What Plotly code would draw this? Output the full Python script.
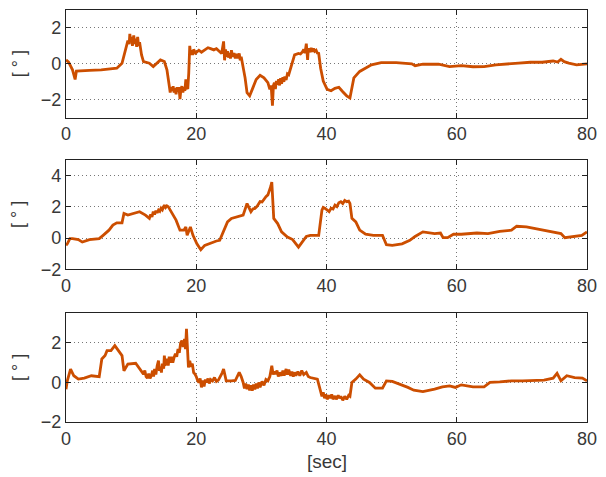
import plotly.graph_objects as go
from plotly.subplots import make_subplots

# ---- data ----
t1 = [0, 0.4, 1.0, 1.4, 1.6, 2.5, 3.6, 5.4, 7.8, 8.6, 9.2, 9.5, 9.7, 9.8, 9.95, 10.1, 10.2, 10.4, 10.55, 10.7,
      10.85, 11.0, 11.15, 11.3, 11.45, 11.6, 11.9, 12.8, 13.4, 13.9, 14.5, 15.1, 15.5, 15.9, 16.0, 16.15,
      16.3, 16.45, 16.6, 16.75, 16.9, 17.05, 17.2, 17.35, 17.5, 17.65, 17.8, 17.95, 18.1, 18.25, 18.4,
      18.55, 18.7, 18.85, 19.0, 19.15, 19.3, 19.45, 19.6, 19.9, 20.4, 20.8, 21.3, 21.8, 22.2, 22.7, 23.1,
      23.5, 23.9, 24.2, 24.35, 24.5, 24.65, 24.8, 24.95, 25.1, 25.25, 25.4, 25.6, 25.8, 26.0, 26.2, 26.4,
      26.6, 26.75, 26.9, 27.05, 27.2, 27.5, 27.8, 28.2, 28.6, 29.2, 29.8, 30.4, 31.0, 31.3, 31.5, 31.7,
      31.85, 32.0, 32.15, 32.3, 32.5, 32.65, 32.8, 32.95, 33.1, 33.3, 33.45, 33.6, 33.8, 34.0, 34.2, 34.8,
      35.1, 35.7, 36.0, 36.3, 36.5, 36.7, 36.9, 37.0, 37.1, 37.2, 37.3, 37.5, 37.65, 37.8, 38.0, 38.2,
      38.4, 38.6, 38.8, 39.1, 39.5, 40.1, 40.7, 41.3, 41.9, 42.5, 43.1, 43.6, 43.9, 44.2, 45.1, 46.0,
      46.9, 48.4, 50.7, 53.1, 53.6, 54.8, 57.2, 58.9, 60.7, 62.5, 64.2, 66.0, 67.8, 69.5, 71.3, 73.1,
      74.8, 75.5, 76.0, 76.5, 77.2, 78.4, 80.0]
y1 = [0.22, 0.1, -0.33, -0.87, -0.4, -0.4, -0.36, -0.33, -0.24, 0.03, 0.85, 1.3, 1.1, 1.67, 1.2, 1.5, 1.0, 1.58, 1.1, 1.4,
      0.95, 1.5, 1.0, 1.2, 0.85, 0.5, 0.13, 0.04, -0.15, 0.04, 0.22, 0.13, -0.33, -1.33, -1.6, -1.3,
      -1.5, -1.25, -1.6, -1.35, -1.7, -1.3, -1.55, -1.3, -1.96, -1.4, -1.24, -1.6, -1.3, -1.5, -0.87,
      -1.3, -1.4, -0.5, 1.0, 0.5, 0.75, 0.5, 0.8, 0.6, 0.76, 0.65, 0.76, 0.9, 0.85, 0.78, 0.85,
      0.7, 0.58, 1.25, 0.2, 0.8, 0.4, 0.7, 0.35, 0.6, 0.3, 0.76, 0.4, 0.6, 0.3, 0.55, 0.3,
      0.58, 0.2, 0.4, 0.1, -0.05, -0.78, -1.6, -1.78, -1.42, -0.87, -0.64, -0.78, -1.05, -1.42, -1.2, -2.33,
      -1.2, -1.05, -1.4, -0.95, -1.15, -0.85, -1.2, -0.8, -1.1, -0.75, -1.0, -0.7, -0.9, -0.55, -0.6, 0.13,
      0.5, 0.58, 0.55, 0.67, 0.8, 0.6, 1.13, 0.7, 0.22, 0.8, 0.85, 0.65, 0.9, 0.67, 0.85, 0.7,
      0.76, 0.6, 0.58, -0.24, -0.96, -1.42, -1.5, -1.36, -1.3, -1.55, -1.78, -1.9, -1.33, -0.78, -0.42, -0.24,
      -0.05, 0.07, 0.07, 0.0, -0.1, -0.02, -0.02, -0.15, -0.1, -0.16, -0.15, -0.05, -0.02, 0.04, 0.09, 0.09,
      0.16, 0.1, 0.25, 0.12, 0.04, -0.05, 0.0]

t2 = [0, 0.2, 0.6, 1.0, 1.9, 2.5, 3.6, 5.1, 5.7, 6.6, 7.2, 7.8, 8.6, 8.9, 9.5, 10.4, 11.3, 12.2, 12.5, 12.8,
      13.0, 13.2, 13.4, 13.6, 13.8, 14.0, 14.2, 14.4, 14.6, 14.8, 15.1, 15.3, 15.5, 15.7, 16.3, 16.9, 17.5,
      18.1, 18.4, 18.6, 19.1, 19.5, 20.1, 20.7, 21.3, 22.2, 23.1, 23.6, 24.2, 24.8, 25.4, 26.3, 27.2, 27.8,
      28.4, 28.7, 29.0, 29.3, 29.5, 29.8, 30.1, 30.4, 30.7, 31.0, 31.3, 31.45, 31.6, 31.75, 31.9, 32.5,
      33.1, 34.0, 34.8, 35.7, 36.3, 36.9, 37.5, 38.8, 39.3, 39.5, 39.8, 40.1, 40.4, 40.7, 41.0, 41.3, 41.6,
      41.9, 42.2, 42.5, 42.8, 43.1, 43.4, 43.6, 43.9, 44.5, 45.1, 46.0, 47.2, 48.6, 49.2, 50.1, 51.6, 52.8,
      53.6, 54.8, 55.7, 56.6, 57.5, 57.9, 58.6, 59.5, 60.7, 63.1, 64.8, 66.6, 68.4, 69.2, 70.7, 72.5, 74.2,
      76.0, 76.6, 77.8, 79.2, 80.0]
y2 = [-0.47, -0.37, -0.04, -0.04, -0.1, -0.26, -0.1, -0.04, 0.17, 0.5, 0.82, 0.97, 0.97, 1.57, 1.46, 1.57, 1.68, 1.46, 1.35, 1.25,
      1.5, 1.35, 1.68, 1.5, 1.75, 1.6, 1.78, 1.7, 1.9, 1.8, 2.1, 1.95, 2.05, 2.0, 1.57, 1.14, 0.5,
      0.5, 0.71, 0.17, 0.71, 0.17, -0.37, -0.75, -0.47, -0.32, -0.19, -0.15, 0.5, 1.03, 1.25, 1.35, 1.46, 2.2,
      1.68, 1.85, 1.89, 2.0, 2.15, 2.32, 2.3, 2.5, 2.64, 2.75, 3.07, 3.3, 3.57, 2.5, 1.25, 0.92,
      0.39, 0.06, -0.1, -0.58, -0.26, 0.1, 0.17, 0.17, 1.78, 1.95, 1.89, 1.75, 1.68, 1.9, 1.85, 2.1, 2.0,
      2.25, 2.32, 2.2, 2.4, 2.32, 2.35, 2.2, 1.25, 1.03, 0.5, 0.24, 0.17, 0.17, -0.43, -0.47, -0.37, -0.15,
      0.1, 0.39, 0.32, 0.28, 0.32, 0.02, 0.02, 0.24, 0.24, 0.32, 0.28, 0.43, 0.5, 0.75, 0.71, 0.56, 0.39,
      0.28, 0.02, 0.1, 0.17, 0.39]

t3 = [0, 0.2, 0.7, 1.2, 1.9, 2.8, 3.9, 5.1, 5.5, 6.0, 6.3, 6.9, 7.5, 8.1, 8.6, 8.9, 9.5, 10.7, 11.3, 11.9,
      12.1, 12.3, 12.5, 12.7, 12.9, 13.1, 13.3, 13.45, 13.6, 13.8, 14.0, 14.2, 14.35, 14.5, 14.65, 14.8,
      15.0, 15.1, 15.25, 15.4, 15.55, 15.7, 15.85, 16.0, 16.2, 16.4, 16.6, 16.8, 17.0, 17.2, 17.4, 17.6,
      17.8, 18.0, 18.2, 18.35, 18.5, 18.65, 18.8, 19.0, 19.2, 19.4, 19.6, 19.8, 20.0, 20.2, 20.4, 20.6,
      20.8, 21.0, 21.2, 21.4, 21.6, 21.8, 22.0, 22.2, 22.5, 22.8, 23.1, 23.4, 23.7, 24.0, 24.2, 24.4,
      24.6, 25.4, 26.0, 26.6, 26.9, 27.2, 27.4, 27.6, 27.8, 28.0, 28.2, 28.4, 28.6, 28.8, 29.0, 29.2,
      29.4, 29.6, 29.8, 30.1, 30.4, 30.7, 31.0, 31.3, 31.6, 31.8, 32.0, 32.2, 32.4, 32.6, 32.8, 33.1,
      33.3, 33.5, 33.8, 34.0, 34.2, 34.5, 34.7, 34.9, 35.1, 35.3, 35.6, 35.9, 36.2, 36.5, 36.9, 37.2,
      37.5, 38.6, 39.1, 39.3, 39.5, 39.7, 39.9, 40.1, 40.4, 40.6, 40.8, 41.0, 41.3, 41.5, 41.8, 42.0,
      42.2, 42.5, 42.8, 43.1, 43.4, 43.6, 43.9, 44.5, 45.1, 45.7, 46.6, 47.5, 48.6, 49.2, 50.1, 51.3,
      52.5, 53.4, 54.8, 56.6, 57.8, 58.9, 59.8, 60.7, 62.5, 64.2, 65.1, 66.6, 68.4, 70.1, 71.9, 73.4,
      74.8, 75.4, 76.0, 76.9, 78.1, 79.3, 80.0]
y3 = [-0.34, 0.08, 0.68, 0.34, 0.17, 0.22, 0.34, 0.29, 1.19, 1.36, 1.61, 1.61, 1.86, 1.61, 1.36, 0.59, 0.93, 0.97, 0.68, 0.42,
      0.6, 0.3, 0.22, 0.45, 0.2, 0.34, 0.6, 0.3, 0.68, 0.4, 0.85, 1.1, 0.59, 0.8, 0.5, 0.95,
      0.7, 1.36, 0.9, 0.93, 1.2, 0.85, 1.3, 1.0, 1.3, 1.0, 1.27, 1.45, 1.3, 1.69, 1.5, 2.0,
      2.12, 1.8, 2.2, 1.69, 2.71, 1.2, 0.76, 1.1, 0.8, 0.95, 0.5, 0.42, 0.3, 0.1, 0.0, 0.2,
      -0.25, 0.1, -0.2, 0.15, 0.0, 0.2, -0.05, 0.15, 0.08, 0.25, 0.05, 0.12, 0.3, 0.5, 0.68, 0.3,
      0.08, 0.08, 0.1, 0.51, 0.3, 0.0, -0.3, -0.05, -0.34, -0.1, -0.4, -0.15, -0.42, -0.1, -0.35, -0.05,
      -0.3, 0.0, -0.25, 0.05, -0.15, 0.15, 0.08, 0.3, 0.85, 0.4, 0.55, 0.42, 0.6, 0.3, 0.5, 0.34,
      0.6, 0.35, 0.68, 0.4, 0.65, 0.34, 0.55, 0.3, 0.51, 0.35, 0.55, 0.34, 0.6, 0.4, 0.51, 0.3,
      0.25, 0.17, -0.42, -0.7, -0.5, -0.8, -0.6, -0.85, -0.65, -0.8, -0.6, -0.85, -0.68, -0.85, -0.65, -0.8,
      -0.7, -0.9, -0.7, -0.85, -0.65, -0.7, 0.0, 0.17, 0.39, 0.17, 0.0, -0.29, -0.29, 0.08, 0.05, -0.08,
      -0.25, -0.39, -0.46, -0.34, -0.22, -0.17, -0.25, -0.12, -0.22, -0.22, 0.0, 0.03, 0.08, 0.08, 0.12, 0.12,
      0.22, 0.46, 0.08, 0.34, 0.25, 0.22, 0.08]

x_ticks = [0, 20, 40, 60, 80]
y_ticks = [[-2, 0, 2], [-2, 0, 2, 4], [-2, 0, 2]]
y_ranges = [[-3, 3], [-2, 5], [-2, 3.5]]
series = [(t1, y1), (t2, y2), (t3, y3)]

LINE = "#CC4E00"
FONT = "Liberation Sans"
TXT = "#383838"

fig = make_subplots(rows=3, cols=1, shared_xaxes=False, vertical_spacing=0.1)

for i, (t, y) in enumerate(series):
    fig.add_trace(go.Scatter(x=t, y=y, mode="lines",
                             line=dict(color=LINE, width=2.8), showlegend=False),
                  row=i + 1, col=1)

domains = [[0.7385, 1.0], [0.3705, 0.6368], [0.0, 0.2639]]
for i in range(3):
    n = "" if i == 0 else str(i + 1)
    fig.layout["xaxis" + n].update(
        range=[0, 80], tickvals=x_ticks, ticks="inside", ticklen=5, tickcolor="#222",
        showline=True, linecolor="#222", linewidth=1.3, mirror="ticks",
        showgrid=True, gridcolor="#777", griddash="1px,3px", gridwidth=1, zeroline=False,
        tickfont=dict(family=FONT, size=18, color=TXT))
    fig.layout["yaxis" + n].update(
        range=y_ranges[i], tickvals=y_ticks[i], ticks="inside", ticklen=5, tickcolor="#222",
        showline=True, linecolor="#222", linewidth=1.3, mirror="ticks",
        showgrid=True, gridcolor="#777", griddash="1px,3px", gridwidth=1, zeroline=False,
        domain=domains[i], tickfont=dict(family=FONT, size=18, color=TXT))
    fig.add_annotation(text="[ ° ]", xref="paper", yref="paper",
                       x=-0.0913, y=sum(domains[i]) / 2, xanchor="center", yanchor="middle",
                       textangle=-90, showarrow=False,
                       font=dict(family=FONT, size=18, color=TXT))

fig.add_annotation(text="[sec]", xref="paper", yref="paper", x=0.5, y=-0.097,
                   xanchor="center", yanchor="middle", showarrow=False,
                   font=dict(family=FONT, size=19, color=TXT))

fig.update_layout(width=606, height=477, margin=dict(l=66, r=11, t=9, b=55),
                  paper_bgcolor="white", plot_bgcolor="white")

fig.write_html("out.html", config={"displayModeBar": False},
               post_script="document.body.style.margin='0';document.body.style.overflow='hidden';")
